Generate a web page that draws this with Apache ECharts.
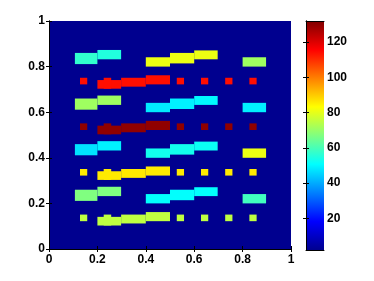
<!DOCTYPE html>
<html><head><meta charset="utf-8">
<script src="https://cdn.jsdelivr.net/npm/echarts/dist/echarts.min.js"></script>
<style>html,body{margin:0;padding:0;background:#fff}#c{width:374px;height:281px}</style>
</head><body><div id="c"></div><script>
// ---- data ----
const xTicks = [0, 0.2, 0.4, 0.6, 0.8, 1];
const yTicks = [0, 0.2, 0.4, 0.6, 0.8, 1];
const cbTicks = [20, 40, 60, 80, 100, 120];
const vMin = 2, vMax = 132;
const bgValue = 2;
// vertical offsets of the repeated row pairs (data units)
const rowShift = [0, -0.2, -0.4, -0.6];
// wide bars (top-row geometry)
const wideX0 = [0.107, 0.2, 0.4, 0.5, 0.6, 0.8];
const wideX1 = [0.2, 0.298, 0.5, 0.6, 0.697, 0.897];
const wideY0 = [0.811, 0.832, 0.800, 0.814, 0.832, 0.800];
const wideY1 = [0.860, 0.873, 0.841, 0.860, 0.871, 0.841];
const wideValues = [
  [57, 55, 81, 81, 81, 71],
  [71, 71, 48, 49, 50, 49],
  [47, 49, 53, 53, 52, 81],
  [67, 67, 51, 51, 51, 59]
];
// small blocks (top-row geometry)
const smallX0 = [0.128, 0.2, 0.226, 0.298, 0.4, 0.528, 0.628, 0.728, 0.828];
const smallX1 = [0.158, 0.298, 0.257, 0.4, 0.5, 0.558, 0.658, 0.758, 0.858];
const smallY0 = [0.722, 0.703, 0.703, 0.712, 0.722, 0.722, 0.722, 0.722, 0.722];
const smallY1 = [0.751, 0.741, 0.751, 0.751, 0.762, 0.751, 0.751, 0.751, 0.751];
const smallValues = [114, 130, 86, 75];
const jetColors = ['#00008f', '#0000ff', '#0080ff', '#00ffff', '#80ff80', '#ffff00', '#ff8000', '#ff0000', '#800000'];

// ---- build ----
const items = [[0, 1, 0, 1, bgValue]];
rowShift.forEach((s, r) => {
  wideX0.forEach((x0, i) => items.push([x0, wideX1[i], wideY0[i] + s, wideY1[i] + s, wideValues[r][i]]));
  smallX0.forEach((x0, i) => items.push([x0, smallX1[i], smallY0[i] + s, smallY1[i] + s, smallValues[r]]));
});

function rectItem(params, api) {
  const p0 = api.coord([api.value(0), api.value(3)]);
  const p1 = api.coord([api.value(1), api.value(2)]);
  return { type: 'rect', shape: { x: p0[0], y: p0[1], width: p1[0] - p0[0], height: p1[1] - p0[1] },
    style: { fill: api.visual('color') } };
}
function cbItem(params, api) {
  const p0 = api.coord([api.value(0), api.value(3)]);
  const p1 = api.coord([api.value(1), api.value(2)]);
  const stops = jetColors.map((c, i) => ({ offset: i / (jetColors.length - 1), color: c }));
  return { type: 'rect', shape: { x: p0[0], y: p0[1], width: p1[0] - p0[0], height: p1[1] - p0[1] },
    style: { fill: new echarts.graphic.LinearGradient(0, 1, 0, 0, stops) } };
}

const lab = { fontFamily: 'Liberation Sans', fontWeight: 'bold', fontSize: 12, color: '#000' };
const line = { show: true, lineStyle: { color: '#000', width: 1 } };
const tick = { show: true, inside: true, length: 3, lineStyle: { color: '#000' } };

const chart = echarts.init(document.getElementById('c'), null, { renderer: 'canvas' });
chart.setOption({
  animation: false,
  grid: [
    { left: 49, top: 21, width: 242, height: 228 },
    { left: 306, top: 21, width: 18, height: 229 }
  ],
  xAxis: [
    { gridIndex: 0, type: 'value', position: 'bottom', min: 0, max: 1, interval: 0.2, z: 10,
      axisLine: line, axisTick: tick, splitLine: { show: false },
      axisLabel: Object.assign({ margin: 5, customValues: xTicks, formatter: v => String(+v.toFixed(1)) }, lab) },
    { gridIndex: 0, type: 'value', position: 'top', min: 0, max: 1, interval: 0.2, z: 10,
      axisLine: line, axisTick: tick, splitLine: { show: false }, axisLabel: { show: false } },
    { gridIndex: 1, type: 'value', position: 'bottom', min: 0, max: 1, z: 10,
      axisLine: line, axisTick: { show: false }, splitLine: { show: false }, axisLabel: { show: false } },
    { gridIndex: 1, type: 'value', position: 'top', min: 0, max: 1, z: 10,
      axisLine: line, axisTick: { show: false }, splitLine: { show: false }, axisLabel: { show: false } }
  ],
  yAxis: [
    { gridIndex: 0, type: 'value', position: 'left', min: 0, max: 1, interval: 0.2, z: 10,
      axisLine: line, axisTick: tick, splitLine: { show: false },
      axisLabel: Object.assign({ margin: 4, customValues: yTicks, formatter: v => String(+v.toFixed(1)) }, lab) },
    { gridIndex: 0, type: 'value', position: 'right', min: 0, max: 1, interval: 0.2, z: 10,
      axisLine: line, axisTick: tick, splitLine: { show: false }, axisLabel: { show: false } },
    { gridIndex: 1, type: 'value', position: 'right', min: vMin, max: vMax, z: 10,
      axisLine: line, axisTick: Object.assign({ customValues: cbTicks }, tick), splitLine: { show: false },
      axisLabel: Object.assign({ margin: 3, customValues: cbTicks }, lab) },
    { gridIndex: 1, type: 'value', position: 'left', min: vMin, max: vMax, z: 10,
      axisLine: line, axisTick: Object.assign({ customValues: cbTicks }, tick), splitLine: { show: false },
      axisLabel: { show: false } }
  ],
  visualMap: {
    show: false, type: 'continuous', seriesIndex: 0, dimension: 4, min: vMin, max: vMax,
    inRange: { color: jetColors }
  },
  series: [
    { type: 'custom', xAxisIndex: 0, yAxisIndex: 0, renderItem: rectItem, clip: true,
      encode: { x: [0, 1], y: [2, 3] }, data: items },
    { type: 'custom', xAxisIndex: 2, yAxisIndex: 2, renderItem: cbItem,
      encode: { x: [0, 1], y: [2, 3] }, data: [[0, 1, vMin, vMax]] }
  ]
});
</script></body></html>
